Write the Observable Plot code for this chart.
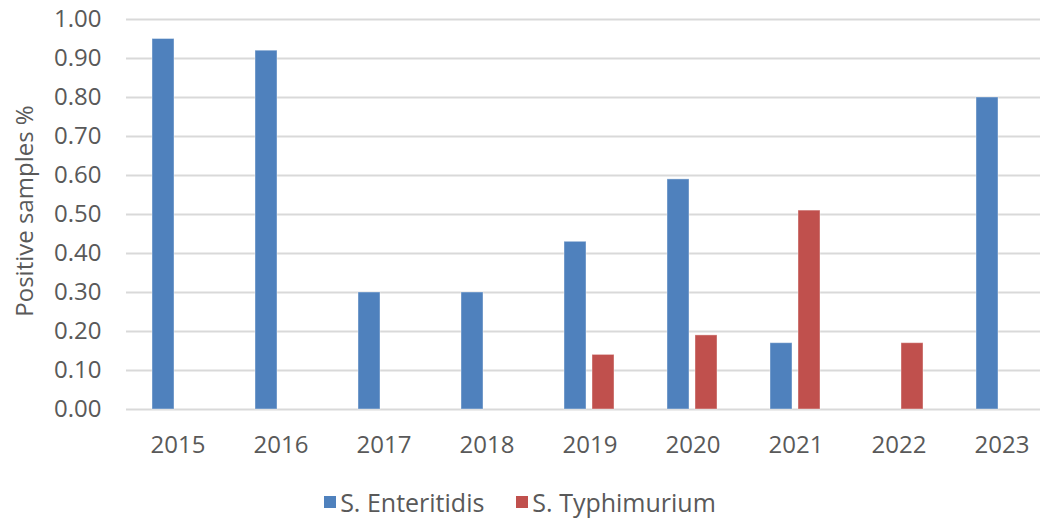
<!DOCTYPE html>
<html><head><meta charset="utf-8">
<script src="https://cdn.jsdelivr.net/npm/d3@7"></script>
<script src="https://cdn.jsdelivr.net/npm/@observablehq/plot@0.6"></script>
<style>
body{margin:0;background:#fff;font-family:"Open Sans",sans-serif;}
#wrap{position:relative;width:1040px;height:518px;overflow:hidden;background:#fff;}
#chart{position:absolute;left:0;top:0;}
#ytitle{position:absolute;left:23px;top:211px;transform:translate(-50%,-50%) rotate(-90deg);white-space:nowrap;font-size:24px;color:#595959;}
#legend{position:absolute;top:487px;left:0;width:1040px;height:30px;line-height:30px;display:flex;justify-content:center;align-items:center;font-size:25px;color:#595959;}
.item{display:flex;align-items:center;margin:0 16px;}
.sw{width:12px;height:12px;margin-right:4px;}
</style></head><body>
<div id="wrap"><div id="chart"></div><div id="ytitle"></div><div id="legend"></div></div>
<script>
const years = ["2015","2016","2017","2018","2019","2020","2021","2022","2023"];
const seriesNames = ["S. Enteritidis","S. Typhimurium"];
const enteritidis = [0.95, 0.92, 0.30, 0.30, 0.43, 0.59, 0.17, null, 0.80];
const typhimurium = [null, null, null, null, 0.14, 0.19, 0.51, 0.17, null];
const yTicks = [0,0.1,0.2,0.3,0.4,0.5,0.6,0.7,0.8,0.9,1.0];
const colors = ["#4F81BD","#C0504D"];
const yTitle = "Positive samples %";

const data = years.flatMap((y,i)=>[
  {year:y, series:seriesNames[0], value:enteritidis[i]},
  {year:y, series:seriesNames[1], value:typhimurium[i]}
]).filter(d=>d.value!=null);

const chart = Plot.plot({
  width:1040, height:470,
  marginLeft:125, marginRight:-13, marginTop:19, marginBottom:61,
  style:{fontFamily:"'Open Sans', sans-serif", fontSize:"24px", color:"#595959", background:"transparent", overflow:"visible"},
  fx:{domain:years, padding:0, label:null, tickSize:0, tickPadding:26, axis:"bottom"},
  x:{domain:seriesNames, paddingInner:0.2, paddingOuter:0.88, axis:null},
  y:{domain:[0,1], ticks:yTicks, tickFormat:d3.format(".2f"), label:null, tickSize:0, tickPadding:25},
  color:{domain:seriesNames, range:colors},
  marks:[
    Plot.ruleY(yTicks, {stroke:"#d9d9d9", strokeWidth:1.8}),
    Plot.barY(data, {fx:"year", x:"series", y:"value", fill:"series", stroke:"#ffffff", strokeOpacity:0.4, strokeWidth:1})
  ]
});
document.getElementById("chart").appendChild(chart);
document.getElementById("ytitle").textContent = yTitle;
const lg = document.getElementById("legend");
seriesNames.forEach((s,i)=>{
  const it = document.createElement("div"); it.className="item";
  const sw = document.createElement("div"); sw.className="sw"; sw.style.background=colors[i];
  const t = document.createElement("span"); t.textContent=s;
  it.appendChild(sw); it.appendChild(t); lg.appendChild(it);
});
</script>
</body></html>
